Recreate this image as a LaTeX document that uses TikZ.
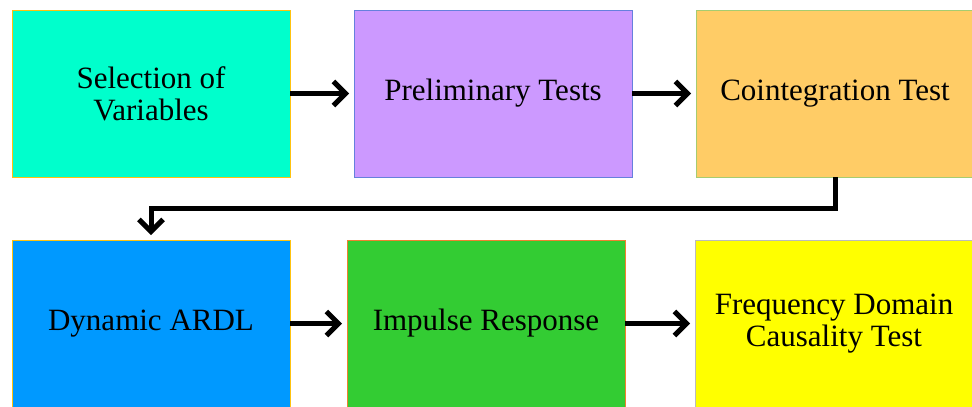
\documentclass[tikz,border=0pt]{standalone}
\usepackage{fontspec}
\setmainfont{Liberation Serif}
\usetikzlibrary{arrows.meta}
\definecolor{cteal}{HTML}{00FFCC}
\definecolor{cpurple}{HTML}{CC99FF}
\definecolor{corange}{HTML}{FFCC66}
\definecolor{cblue}{HTML}{0099FF}
\definecolor{cgreen}{HTML}{33CC33}
\definecolor{cyellow}{HTML}{FFFF00}
\definecolor{bgold}{HTML}{FFC20E}
\definecolor{bblue}{HTML}{6680DD}
\definecolor{bgreen}{HTML}{A6CC70}
\definecolor{borange}{HTML}{F08030}
\definecolor{bgrey}{HTML}{BBBBBB}
\tikzset{
  stepbox/.style={draw, line width=1pt, minimum width=278pt, minimum height=167pt,
    inner sep=0pt, outer sep=0pt, anchor=north west, align=center,
    font=\fontsize{31}{32}\selectfont},
  arr/.style={line width=5pt, -{Straight Barb[length=12pt,width=24pt]}, shorten >=5pt}
}
\begin{document}
\begin{tikzpicture}[x=1pt,y=-1pt]
\useasboundingbox (0,0) rectangle (972,407);
\clip (0,0) rectangle (972,407);
\node[stepbox, fill=cteal, draw=bgold] (a) at (12,10) {Selection of\\Variables};
\node[stepbox, fill=cpurple, draw=bblue] (b) at (354,10) {Preliminary Tests};
\node[stepbox, fill=corange, draw=bgreen] (c) at (696,10) {Cointegration Test};
\node[stepbox, fill=cblue, draw=bgold] (d) at (12,240) {Dynamic ARDL};
\node[stepbox, fill=cgreen, draw=borange] (e) at (347,240) {Impulse Response};
\node[stepbox, fill=cyellow, draw=bgrey] (f) at (695,240) {Frequency Domain\\Causality Test};
\draw[arr] (a) -- (b);
\draw[arr] (b) -- (c);
\draw[arr] (c.south) -- (c.south |- 0,208) -| (d.north);
\draw[arr] (d) -- (e);
\draw[arr] (e) -- (f);
\end{tikzpicture}
\end{document}
